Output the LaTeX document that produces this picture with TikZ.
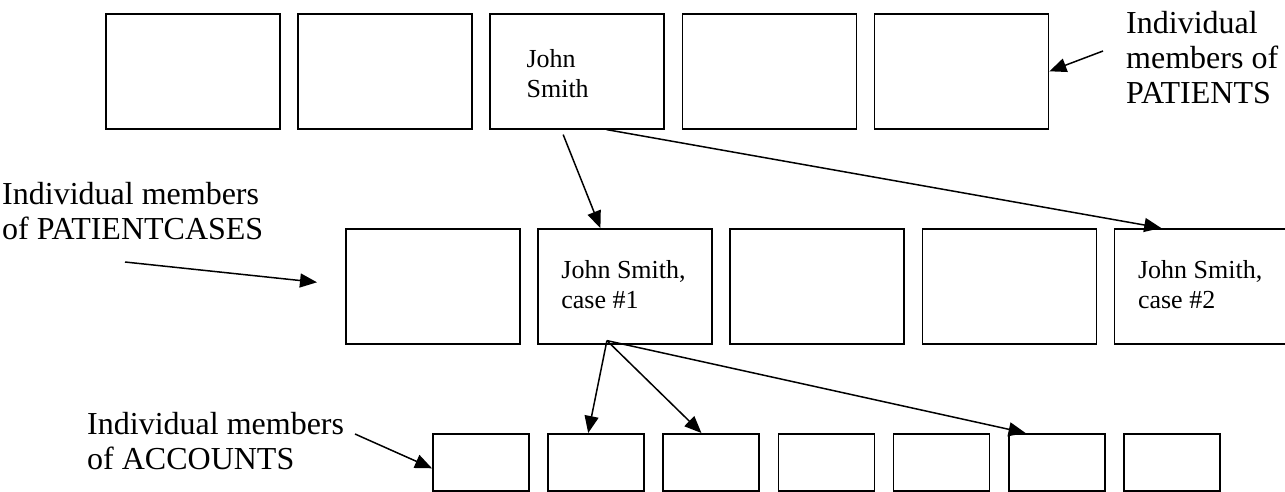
\documentclass[tikz,border=0pt]{standalone}
\usepackage{fontspec}
\setmainfont{Liberation Serif}
\usetikzlibrary{arrows.meta,calc,positioning}

\begin{document}
\begin{tikzpicture}[x=1pt,y=-1pt,
  member/.style={draw,line width=1.6pt,inner sep=0pt,anchor=north west,minimum width=174pt,minimum height=115pt},
  account/.style={member,minimum width=96pt,minimum height=57pt},
  boxtext/.style={font=\fontsize{26}{30}\selectfont,align=left,inner sep=0pt,anchor=north west},
  lbl/.style={font=\fontsize{32}{35}\selectfont,align=left,inner sep=0pt,anchor=north west},
  link/.style={line width=1.5pt,-{Triangle[length=17pt,width=14pt]}}]
\useasboundingbox (0,0) rectangle (1285,491);
%Abstand der Kaesten in den Reihen
  \pgfmathsetmacro{\dP}{192.2}
  \pgfmathsetmacro{\dA}{115.2}
\foreach \i in {1,...,5}{
  \node[member] (p\i) at ({105+\dP*(\i-1)},13) {};
  \node[member] (c\i) at ({345+\dP*(\i-1)},228) {};
}
\foreach \i in {1,...,7}{
  \node[account] (a\i) at ({432+\dA*(\i-1)},433) {};
}
\node[boxtext] (js) at ($(p3.north west)+(37,36)$) {John\\Smith};
\node[boxtext] (case1) at ($(c2.north west)+(24,32)$) {John Smith,\\case \#1};
\node[boxtext] (case2) at ($(c5.north west)+(24,32)$) {John Smith,\\case \#2};
%Beschriftungen
\node[lbl] (patlbl) at (1126,11) {Individual\\members of\\PATIENTS};
\node[lbl] (caselbl) at (2,182) {Individual members\\of PATIENTCASES};
\node[lbl] (acclbl) at (87,412) {Individual members\\of ACCOUNTS};
\coordinate (patfrom) at (1103,51);
\coordinate (casefrom) at (125,262);
\coordinate (accfrom) at (355,434);
\draw[link] (patfrom) -- (p5.east);
\draw[link] (casefrom) -- ($(c1.west)+(-28,-4)$);
\draw[link] (accfrom) -- ($(a1.west)+(0,6)$);
%Pfeile von John Smith
\draw[link] ($(p3.south west)!0.42!(p3.south east)+(0,5)$) -- ($(c2.north west)!0.36!(c2.north east)$);
\draw[link] ($(p3.south west)!0.667!(p3.south east)$) -- ($(c5.north west)!0.27!(c5.north east)$);
\coordinate (fork) at ($(c2.south west)!0.397!(c2.south east)+(0,-4)$);
\draw[link] (fork) -- ($(a2.north west)!0.42!(a2.north east)$);
\draw[link] (fork) -- ($(a3.north west)!0.40!(a3.north east)$);
\draw[link] (fork) -- ($(a6.north west)!0.18!(a6.north east)$);
\end{tikzpicture}
\end{document}
